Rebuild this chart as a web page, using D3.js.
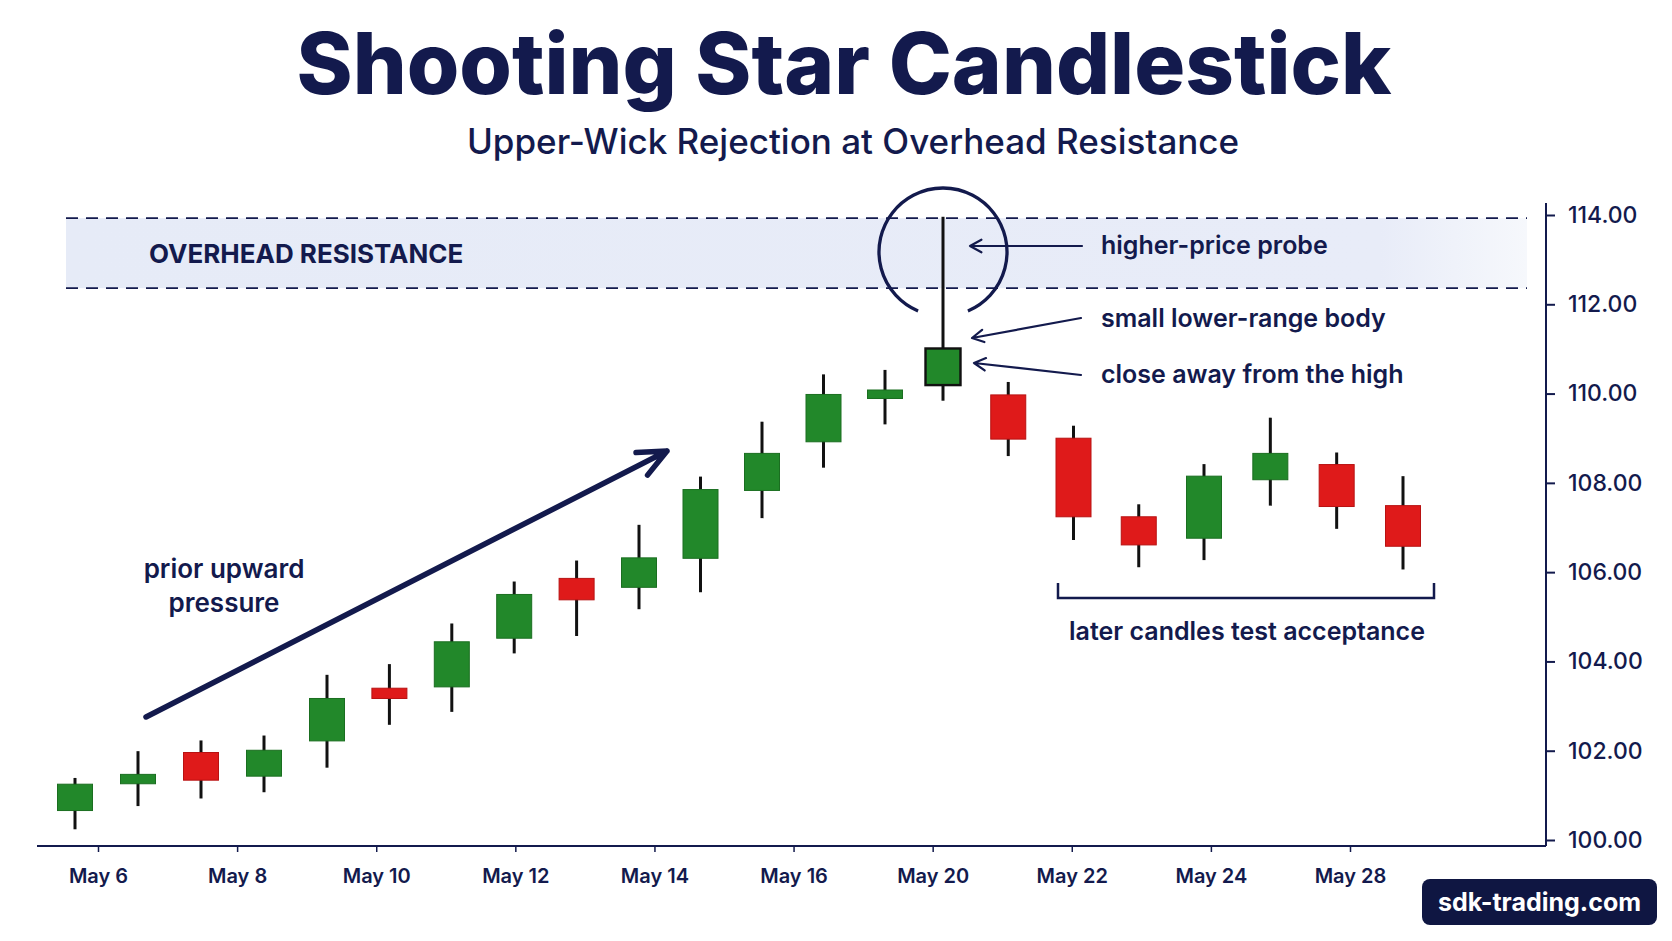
<!DOCTYPE html>
<html>
<head>
<meta charset="utf-8">
<script src="https://cdn.jsdelivr.net/npm/d3@7"></script>
<style>
  body { margin: 0; background: #fff; }
  text { font-family: Inter, "Noto Sans", sans-serif; }
</style>
</head>
<body>
<svg id="chart"></svg>
<script>
// candle ids (the axis labels below are not aligned to candles in the source)
const candleIds = ["1","2","3","4","5","6","7","8","9","10","11","12","13","14","15","16","17","18","19","20","21","22"];
const openVals  = [100.66, 101.26, 101.96, 101.43, 102.22, 103.40, 103.43, 104.52, 105.86, 105.66, 106.31, 107.83, 108.92, 109.89, 110.19, 109.97, 109.00, 107.24, 106.76, 108.07, 108.41, 107.49];
const highVals  = [101.39, 101.99, 102.23, 102.34, 103.70, 103.94, 104.85, 105.79, 106.26, 107.06, 108.14, 109.37, 110.43, 110.53, 113.96, 110.26, 109.28, 107.52, 108.42, 109.46, 108.68, 108.15];
const lowVals   = [100.24, 100.76, 100.93, 101.07, 101.62, 102.58, 102.87, 104.18, 104.57, 105.17, 105.55, 107.21, 108.34, 109.31, 109.84, 108.60, 106.72, 106.11, 106.27, 107.49, 106.97, 106.06];
const closeVals = [101.25, 101.47, 101.34, 102.01, 103.17, 103.17, 104.44, 105.50, 105.38, 106.32, 107.85, 108.66, 109.98, 110.08, 111.01, 108.98, 107.24, 106.61, 108.15, 108.66, 107.47, 106.58];
const tickLabels = ["May 6", "May 8", "May 10", "May 12", "May 14", "May 16", "May 20", "May 22", "May 24", "May 28"];
const priceTicks = [100, 102, 104, 106, 108, 110, 112, 114];
const resistance = [112.36, 113.93];
const starIndex = 14;

const width = 1672, height = 941;
const navy = "#131a4d";
const green = "#22882a", red = "#df1a1a";
const axisY = 846, axisX = 1546;

const svg = d3.select("#chart").attr("width", width).attr("height", height);
svg.append("rect").attr("width", width).attr("height", height).attr("fill", "#fff");

const candles = candleIds.map((id, i) => ({
    id, i, open: openVals[i], high: highVals[i], low: lowVals[i], close: closeVals[i]
}));

// scales - candle spacing in the source is slightly uneven, so a piecewise index scale
const xi = d3.scaleLinear()
    .domain([0, 4, 9, 13, 14, 18, 21])
    .range([75, 327, 639, 885, 943, 1204, 1403]);
const x = id => xi(candleIds.indexOf(id));
const y = d3.scaleLinear().domain([100, 114]).range([840, 215]);
const xLab = d3.scalePoint().domain(tickLabels).range([98, 1350]);
const bodyW = 35;

// gradient for resistance band
const defs = svg.append("defs");
const grad = defs.append("linearGradient").attr("id", "zone").attr("x1", 0).attr("x2", 1);
grad.append("stop").attr("offset", "0%").attr("stop-color", "#e6ebf7");
grad.append("stop").attr("offset", "90%").attr("stop-color", "#e8ecf8");
grad.append("stop").attr("offset", "100%").attr("stop-color", "#f6f8fc");

// titles
svg.append("text")
    .attr("x", 844).attr("y", 94)
    .attr("text-anchor", "middle")
    .style("font-size", "85px").style("font-weight", 800)
    .attr("fill", navy)
    .text("Shooting Star Candlestick");

svg.append("text")
    .attr("x", 853).attr("y", 154)
    .attr("text-anchor", "middle")
    .style("font-size", "35px").style("font-weight", 500)
    .attr("fill", navy)
    .text("Upper-Wick Rejection at Overhead Resistance");

// overhead resistance band
const zoneL = 66, zoneR = 1527;
svg.append("rect")
    .attr("x", zoneL).attr("y", y(resistance[1]))
    .attr("width", zoneR - zoneL).attr("height", y(resistance[0]) - y(resistance[1]))
    .attr("fill", "url(#zone)");

svg.selectAll(".zone-line")
    .data(resistance)
    .join("line")
    .attr("x1", zoneL).attr("x2", zoneR)
    .attr("y1", d => y(d)).attr("y2", d => y(d))
    .attr("stroke", navy).attr("stroke-width", 1.8)
    .attr("stroke-dasharray", "12,8");

svg.append("text")
    .attr("x", 149).attr("y", (y(resistance[0]) + y(resistance[1])) / 2 + 10)
    .style("font-size", "26px").style("font-weight", 700)
    .attr("fill", navy)
    .text("OVERHEAD RESISTANCE");

// axes
svg.append("line")
    .attr("x1", 37).attr("x2", axisX).attr("y1", axisY).attr("y2", axisY)
    .attr("stroke", navy).attr("stroke-width", 2);
svg.append("line")
    .attr("x1", axisX).attr("x2", axisX).attr("y1", 203).attr("y2", axisY)
    .attr("stroke", navy).attr("stroke-width", 2);

const gx = svg.append("g")
    .attr("transform", `translate(0,${axisY})`)
    .call(d3.axisBottom(xLab).tickSize(6));
gx.select(".domain").remove();
gx.selectAll(".tick line").attr("stroke", navy).attr("stroke-width", 1.5);
gx.selectAll(".tick text")
    .attr("y", 37).attr("dy", 0)
    .attr("fill", navy)
    .style("font-size", "20px").style("font-weight", 600)
    .style("font-family", "Inter, sans-serif");

const gy = svg.append("g")
    .attr("transform", `translate(${axisX},0)`)
    .call(d3.axisRight(y).tickValues(priceTicks).tickFormat(d3.format(".2f")).tickSize(9).tickPadding(13));
gy.select(".domain").remove();
gy.selectAll(".tick line").attr("stroke", navy).attr("stroke-width", 2);
gy.selectAll(".tick text")
    .attr("fill", navy)
    .style("font-size", "23px").style("font-weight", 500)
    .style("font-family", "Inter, sans-serif");

// candles
const cg = svg.append("g");
cg.selectAll(".wick")
    .data(candles)
    .join("line")
    .attr("x1", d => x(d.id)).attr("x2", d => x(d.id))
    .attr("y1", d => y(d.high)).attr("y2", d => y(d.low))
    .attr("stroke", "#111").attr("stroke-width", 3);

cg.selectAll(".body")
    .data(candles)
    .join("rect")
    .attr("x", d => x(d.id) - bodyW / 2)
    .attr("y", d => y(Math.max(d.open, d.close)))
    .attr("width", bodyW)
    .attr("height", d => Math.max(2, Math.abs(y(d.open) - y(d.close))))
    .attr("fill", d => d.close >= d.open ? green : red)
    .attr("stroke", d => d.i === starIndex ? "#111" : (d.close >= d.open ? "#1a6e20" : "#b81212"))
    .attr("stroke-width", d => d.i === starIndex ? 2.4 : 1);

// arrow helper
function arrow(x1, y1, x2, y2, w, len, spread) {
    const a = Math.atan2(y1 - y2, x1 - x2);
    const p = d3.path();
    p.moveTo(x1, y1); p.lineTo(x2, y2);
    p.moveTo(x2 + len * Math.cos(a + spread), y2 + len * Math.sin(a + spread));
    p.lineTo(x2, y2);
    p.lineTo(x2 + len * Math.cos(a - spread), y2 + len * Math.sin(a - spread));
    svg.append("path").attr("d", p.toString())
        .attr("fill", "none").attr("stroke", navy)
        .attr("stroke-width", w).attr("stroke-linecap", "round").attr("stroke-linejoin", "round");
}

// prior upward pressure
arrow(146, 717, 667, 451, 5.5, 31, 0.42);
svg.append("text")
    .attr("text-anchor", "middle").attr("fill", navy)
    .style("font-size", "26px").style("font-weight", 600)
    .selectAll("tspan")
    .data(["prior upward", "pressure"])
    .join("tspan")
    .attr("x", 224).attr("y", (d, i) => 578 + i * 34)
    .text(d => d);

// circle around the upper wick
const sx = x(candleIds[starIndex]);
const cy = 252, r = 64, gap = 0.4;
const arc = d3.path();
arc.moveTo(sx + r * Math.cos(Math.PI / 2 + gap), cy + r * Math.sin(Math.PI / 2 + gap));
arc.arc(sx, cy, r, Math.PI / 2 + gap, Math.PI * 2.5 - gap);
svg.append("path").attr("d", arc.toString())
    .attr("fill", "none").attr("stroke", navy).attr("stroke-width", 3.3);

// annotations on the right
const notes = [
    { text: "higher-price probe", y: 254, from: [1082, 246], to: [sx + 27, 246] },
    { text: "small lower-range body", y: 327, from: [1081, 318], to: [sx + 29, 338] },
    { text: "close away from the high", y: 383, from: [1081, 375], to: [sx + 31, 363] }
];
notes.forEach(n => {
    arrow(n.from[0], n.from[1], n.to[0], n.to[1], 2.2, 13, 0.5);
    svg.append("text")
        .attr("x", 1101).attr("y", n.y)
        .attr("fill", navy)
        .style("font-size", "25px").style("font-weight", 600)
        .text(n.text);
});

// bracket for later candles
svg.append("path")
    .attr("d", "M1058,583 L1058,598 L1434,598 L1434,583")
    .attr("fill", "none").attr("stroke", navy).attr("stroke-width", 2.5);
svg.append("text")
    .attr("x", 1247).attr("y", 640)
    .attr("text-anchor", "middle").attr("fill", navy)
    .style("font-size", "25px").style("font-weight", 600)
    .text("later candles test acceptance");

// watermark
svg.append("rect")
    .attr("x", 1422).attr("y", 879).attr("width", 235).attr("height", 46).attr("rx", 8)
    .attr("fill", "#0f1642");
svg.append("text")
    .attr("x", 1539.5).attr("y", 911)
    .attr("text-anchor", "middle").attr("fill", "#fff")
    .style("font-size", "25px").style("font-weight", 700)
    .text("sdk-trading.com");
</script>
</body>
</html>
